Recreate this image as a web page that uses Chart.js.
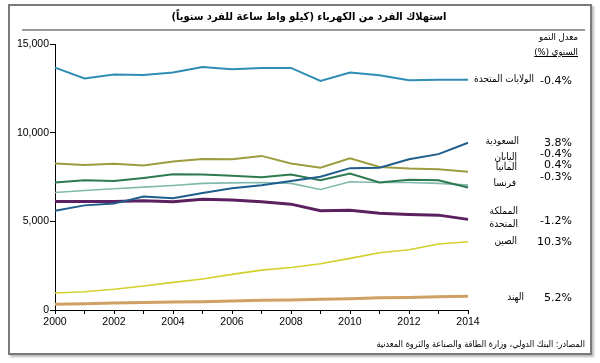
<!DOCTYPE html>
<html><head><meta charset="utf-8">
<script src="https://cdn.jsdelivr.net/npm/chart.js@4"></script>
<style>
html,body{margin:0;padding:0;background:#fff;}
#wrap{position:relative;width:600px;height:363px;overflow:hidden;}
#frame{position:absolute;left:8px;top:4px;width:580px;height:347px;border:2px solid #7a7a7a;box-shadow:2px 2px 2px #bbb;}
#rule{position:absolute;left:22px;top:29px;width:563px;height:2px;background:#9a9a9a;}
canvas{position:absolute;left:0;top:0;}
.t{position:absolute;font-family:"DejaVu Sans Condensed","DejaVu Sans",sans-serif;white-space:nowrap;color:#000;}
#title{left:0;width:618px;text-align:center;top:10px;font-size:11px;font-weight:bold;direction:rtl;}
.nm{font-size:10px;direction:rtl;text-align:right;line-height:12px;}
.pc{font-family:"DejaVu Sans",sans-serif;font-size:11px;text-align:right;line-height:14px;right:28px;}
.hd{font-size:9.5px;direction:rtl;right:22px;line-height:12px;}
#src{font-size:9px;direction:rtl;right:15px;top:338px;line-height:12px;}
</style></head>
<body><div id="wrap">
<div id="frame"></div>
<div id="rule"></div>
<canvas id="c" width="600" height="363"></canvas>
<div class="t" id="title">استهلاك الفرد من الكهرباء (كيلو واط ساعة للفرد سنوياً)</div>
<div class="t hd" style="top:31px;">معدل النمو</div>
<div class="t hd" style="top:46px;text-decoration:underline;">السنوي (%)</div>
<div id="labels"></div>
<div class="t" id="src">المصادر: البنك الدولي، وزارة الطاقة والصناعة والثروة المعدنية</div>
</div>
<script>
const years = [2000,2001,2002,2003,2004,2005,2006,2007,2008,2009,2010,2011,2012,2013,2014];
const yTicks = [0,5000,10000,15000];
const names = ["الولايات المتحدة","السعودية","اليابان","ألمانيا","فرنسا","المملكة المتحدة","الصين","الهند"];
const growth = ["-0.4%","3.8%","-0.4%","0.4%","-0.3%","-1.2%","10.3%","5.2%"];
const usa     = [13670,13060,13280,13250,13390,13700,13570,13650,13650,12920,13390,13240,12960,12990,12990];
const saudi   = [5600,5900,6000,6400,6300,6600,6870,7040,7270,7510,8000,8020,8500,8790,9430];
const japan   = [8260,8170,8250,8150,8380,8520,8500,8690,8260,8020,8560,8070,7980,7940,7790];
const germany = [7190,7320,7270,7450,7660,7640,7570,7480,7640,7320,7700,7190,7340,7320,6910];
const france  = [6630,6740,6840,6930,7020,7140,7170,7190,7140,6800,7230,7190,7190,7140,7040];
const uk      = [6120,6120,6120,6160,6100,6250,6200,6100,5970,5600,5630,5450,5390,5350,5110];
const china   = [960,1030,1170,1350,1560,1750,2010,2250,2400,2610,2910,3230,3400,3720,3850];
const india   = [330,350,400,420,450,470,510,550,560,600,640,690,710,750,780];

const series = [usa,saudi,japan,germany,france,uk,china,india];
const colors = ["#2f8db3","#1f5d8c","#9c9c3e","#2e7a4e","#82b9ae","#5a2060","#d3d02c","#cfa063"];
const widths = [2,2,2,2,1.6,3,1.6,3];

const datasets = series.map((d,i)=>({label:names[i],data:d,borderColor:colors[i],borderWidth:widths[i],pointRadius:0,tension:0,fill:false}));

new Chart(document.getElementById('c'),{
  type:'line',
  data:{labels:years.map(String),datasets:datasets},
  options:{
    responsive:false,animation:false,
    layout:{padding:{left:8,right:132,top:44,bottom:0}},
    plugins:{legend:{display:false},tooltip:{enabled:false}},
    scales:{
      x:{type:'category',offset:false,
        grid:{drawOnChartArea:false,drawTicks:true,tickLength:4,color:'#000'},
        border:{display:true,color:'#000',width:1},
        ticks:{autoSkip:false,maxRotation:0,padding:2,color:'#000',font:{family:'Liberation Sans',size:10.5},
          callback:function(v,i){const yr=years[i];return yr%2===0?String(yr):'';}},
        afterFit(s){s.height=53;}
      },
      y:{min:0,max:15000,
        afterBuildTicks(s){s.ticks=yTicks.map(v=>({value:v}));},
        grid:{drawOnChartArea:false,drawTicks:true,tickLength:5,color:'#000'},
        border:{display:true,color:'#000',width:1},
        ticks:{padding:1,color:'#000',font:{family:'Liberation Sans',size:10.5},
          callback:v=>v.toLocaleString('en-US')},
        afterFit(s){s.width=47;}
      }
    }
  }
});

// legend labels (layout only)
const namePos=[{r:66,t:73},{r:81,t:135},{r:83,t:151},{r:83,t:161},{r:84,t:177},{r:82,t:205,two:true},{r:83,t:235},{r:76,t:291}];
const pctTop=[74,136,147,158,170,214,235,291];
const L=document.getElementById('labels');
names.forEach((n,i)=>{
  const d=document.createElement('div');d.className='t nm';
  d.style.right=namePos[i].r+'px';d.style.top=namePos[i].t+'px';
  if(namePos[i].two){const p=n.split(' ');d.innerHTML=p[0]+'<br>'+p[1];d.style.lineHeight='12.5px';}
  else d.textContent=n;
  L.appendChild(d);
  const p=document.createElement('div');p.className='t pc';p.style.top=pctTop[i]+'px';p.textContent=growth[i];L.appendChild(p);
});
</script>
</body></html>
